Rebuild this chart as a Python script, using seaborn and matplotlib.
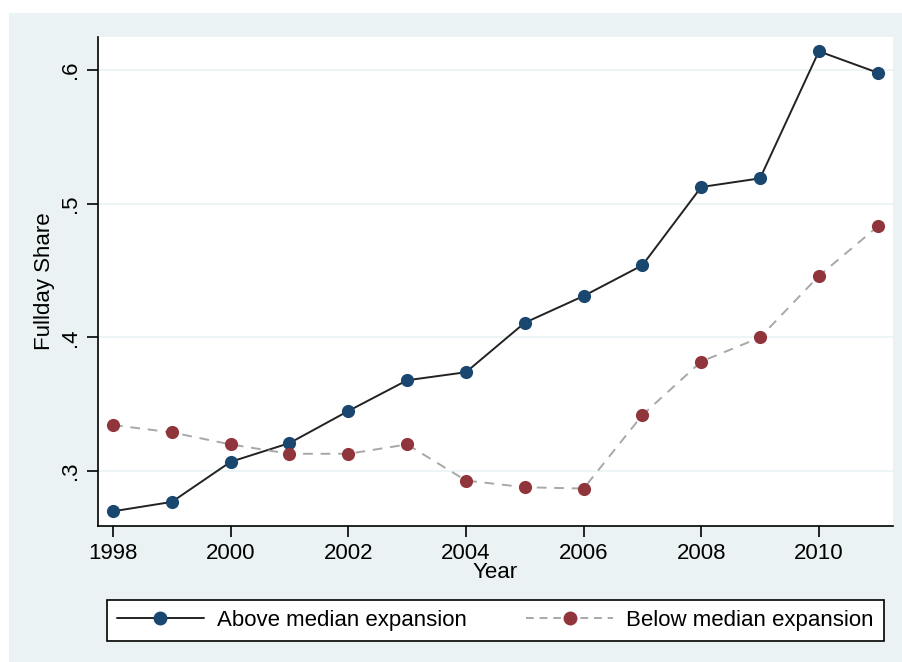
import numpy as np
import pandas as pd
import matplotlib.pyplot as plt
import seaborn as sns
from matplotlib.lines import Line2D
from matplotlib.patches import Rectangle

years = list(range(1998, 2012))
above = [0.270, 0.277, 0.307, 0.321, 0.345, 0.368, 0.374,
         0.411, 0.431, 0.454, 0.5125, 0.519, 0.614, 0.598]
below = [0.3345, 0.329, 0.320, 0.313, 0.313, 0.320, 0.293,
         0.288, 0.287, 0.342, 0.382, 0.400, 0.446, 0.483]
labels = ['Above median expansion', 'Below median expansion']

df = pd.DataFrame({'Year': years, 'above': above, 'below': below})

sns.set_style('white')
plt.rcParams['font.family'] = ['Liberation Sans', 'DejaVu Sans']
plt.rcParams['text.color'] = 'black'

W, H = 903, 662
fig = plt.figure(figsize=(W / 100, H / 100), dpi=100)
fig.patch.set_facecolor('white')
fig.patches.append(Rectangle((9 / W, 0), 1, 1 - 13 / H, transform=fig.transFigure,
                             facecolor='#EAF2F3', edgecolor='none', zorder=-10))

ax = fig.add_axes([98 / W, 1 - 526 / H, 795 / W, 489 / H])
ax.set_facecolor('white')

navy = '#1A476F'
maroon = '#90353B'

sns.lineplot(data=df, x='Year', y='above', ax=ax, color='#222222', lw=1.4, zorder=3)
sns.scatterplot(data=df, x='Year', y='above', ax=ax, color=navy, s=90,
                edgecolor=navy, linewidth=0, zorder=4)
sns.lineplot(data=df, x='Year', y='below', ax=ax, color='#A8A8A8', lw=1.4, zorder=3)
ax.lines[-1].set_dashes([5, 4])
sns.scatterplot(data=df, x='Year', y='below', ax=ax, color=maroon, s=90,
                edgecolor=maroon, linewidth=0, zorder=4)

ax.set_xlim(1997.745, 2011.26)
ax.set_ylim(0.259, 0.6247)
ax.set_xticks(range(1998, 2011, 2))
ax.set_yticks([0.3, 0.4, 0.5, 0.6])
ax.set_yticklabels(['.3', '.4', '.5', '.6'], rotation=90, va='center')
ax.grid(axis='y', color='#EAF2F3', lw=1.2)
ax.set_axisbelow(True)

for s in ['top', 'right']:
    ax.spines[s].set_visible(False)
for s in ['left', 'bottom']:
    ax.spines[s].set_color('black')
    ax.spines[s].set_linewidth(1.2)
ax.tick_params(axis='both', direction='out', length=8, width=1.2, color='black',
               labelsize=16, labelcolor='black', left=True, bottom=True, pad=4)

ax.set_xlabel('Year', fontsize=16, labelpad=-1, color='black')
ax.set_ylabel('Fullday Share', fontsize=16, labelpad=4, color='black')

handles = [
    Line2D([], [], color='#222222', lw=1.4, marker='o', markersize=9,
           markerfacecolor=navy, markeredgecolor=navy),
    Line2D([], [], color='#A8A8A8', lw=1.4, ls=(0, (4, 3)), marker='o', markersize=9,
           markerfacecolor=maroon, markeredgecolor=maroon),
]
leg = fig.legend(handles, labels, loc='center', ncol=2, mode='expand',
                 bbox_to_anchor=(107 / W, 1 - 642 / H, 777 / W, 43 / H),
                 fontsize=16, handlelength=3.9, handletextpad=0.6,
                 columnspacing=2.0, frameon=True, fancybox=False, borderpad=0.45,
                 borderaxespad=0, framealpha=1)
leg.get_frame().set_edgecolor('black')
leg.get_frame().set_linewidth(1.2)
leg.get_frame().set_facecolor('white')

fig.savefig('out.png', dpi=100)
